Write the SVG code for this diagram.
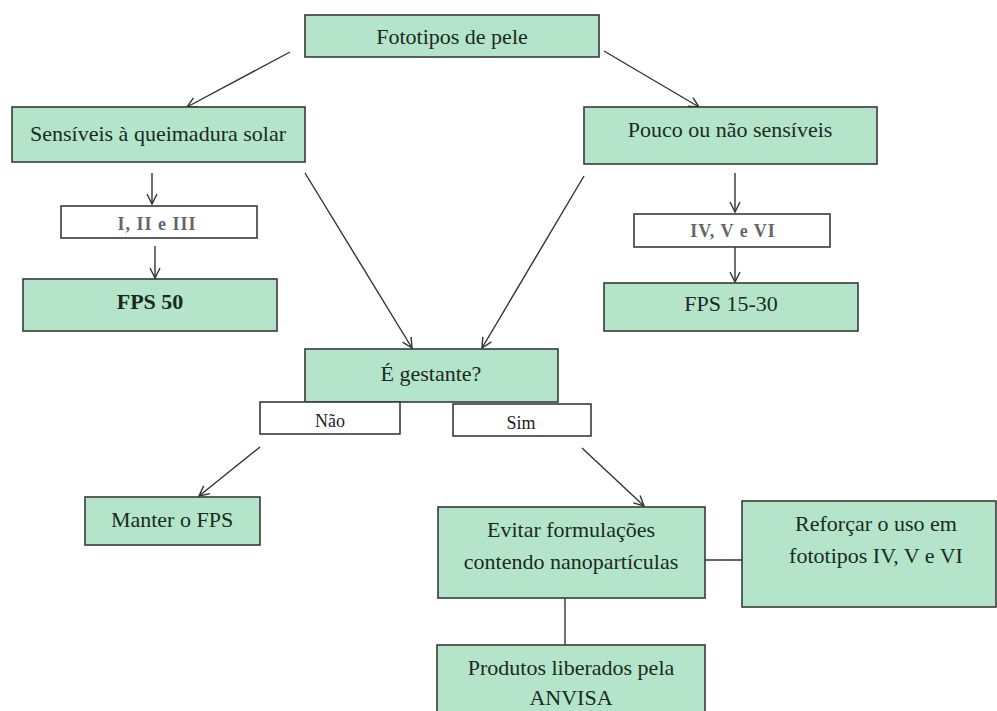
<svg xmlns="http://www.w3.org/2000/svg" width="997" height="711" viewBox="0 0 997 711">
<style>
.box{fill:#b4e5ca;stroke:#3a3a3a;stroke-width:1.6}
.wbox{fill:#ffffff;stroke:#3a3a3a;stroke-width:1.6}
.t{font-family:"Liberation Serif","Times New Roman",serif;font-size:22px;fill:#1a2a1f;text-anchor:middle}
.s{font-family:"Liberation Serif","Times New Roman",serif;font-size:18px;fill:#222;text-anchor:middle}
.g{font-family:"Liberation Serif","Times New Roman",serif;font-size:18px;font-weight:bold;fill:#666;text-anchor:middle;letter-spacing:1px}
.b{font-family:"Liberation Serif","Times New Roman",serif;font-size:22px;font-weight:bold;fill:#1a2a1f;text-anchor:middle}
.c{stroke:#333;stroke-width:1.4;fill:none}
.a{marker-end:url(#arr)}
</style>
<defs>
<marker id="arr" viewBox="0 0 12 12" refX="11" refY="6" markerWidth="12" markerHeight="12" markerUnits="userSpaceOnUse" orient="auto">
<path d="M1,1 L11,6 L1,11" fill="none" stroke="#333" stroke-width="1.4"/>
</marker>
</defs>
<g id="connectors">
<line class="c a" x1="290" y1="52" x2="187" y2="107"/>
<line class="c a" x1="604" y1="51" x2="699" y2="107"/>
<line class="c a" x1="152" y1="173" x2="152" y2="204"/>
<line class="c a" x1="155" y1="246" x2="155" y2="278"/>
<line class="c a" x1="735" y1="173" x2="735" y2="212"/>
<line class="c a" x1="735" y1="247" x2="735" y2="282"/>
<line class="c a" x1="305" y1="173" x2="412" y2="348"/>
<line class="c a" x1="584" y1="176" x2="482" y2="348"/>
<line class="c a" x1="260" y1="447" x2="199" y2="496"/>
<line class="c a" x1="582" y1="448" x2="644" y2="506"/>
<line class="c" x1="705" y1="560" x2="742" y2="560"/>
<line class="c" x1="565" y1="598" x2="565" y2="645"/>
</g>
<g id="fototipos"><rect class="box" x="305" y="15" width="294" height="42"/><text class="t" x="452" y="44">Fototipos de pele</text></g>
<g id="sensiveis"><rect class="box" x="12" y="107" width="293" height="55"/><text class="t" x="158" y="141">Sensíveis à queimadura solar</text></g>
<g id="pouco"><rect class="box" x="584" y="107" width="293" height="57"/><text class="t" x="730" y="137">Pouco ou não sensíveis</text></g>
<g id="tipos123"><rect class="wbox" x="61" y="206" width="196" height="32"/><text class="g" x="157" y="230">I, II e III</text></g>
<g id="tipos456"><rect class="wbox" x="634" y="214" width="196" height="33"/><text class="g" x="733" y="237">IV, V e VI</text></g>
<g id="fps50"><rect class="box" x="23" y="279" width="254" height="52"/><text class="b" x="150" y="309">FPS 50</text></g>
<g id="fps1530"><rect class="box" x="604" y="283" width="254" height="48"/><text class="t" x="731" y="311">FPS 15-30</text></g>
<g id="gestante"><rect class="box" x="305" y="349" width="253" height="53"/><text class="t" x="431" y="381">É gestante?</text></g>
<g id="nao"><rect class="wbox" x="260" y="402" width="140" height="32"/><text class="s" x="330" y="427">Não</text></g>
<g id="sim"><rect class="wbox" x="453" y="404" width="138" height="32"/><text class="s" x="521" y="429">Sim</text></g>
<g id="manter"><rect class="box" x="85" y="497" width="175" height="48"/><text class="t" x="172" y="527">Manter o FPS</text></g>
<g id="evitar"><rect class="box" x="438" y="507" width="267" height="91"/><text class="t" x="571" y="537">Evitar formulações</text><text class="t" x="571" y="569">contendo nanopartículas</text></g>
<g id="reforcar"><rect class="box" x="742" y="501" width="254" height="106"/><text class="t" x="876" y="531">Reforçar o uso em</text><text class="t" x="876" y="563">fototipos IV, V e VI</text></g>
<g id="produtos"><rect class="box" x="437" y="645" width="268" height="80"/><text class="t" x="571" y="675">Produtos liberados pela</text><text class="t" x="571" y="705">ANVISA</text></g>
</svg>
